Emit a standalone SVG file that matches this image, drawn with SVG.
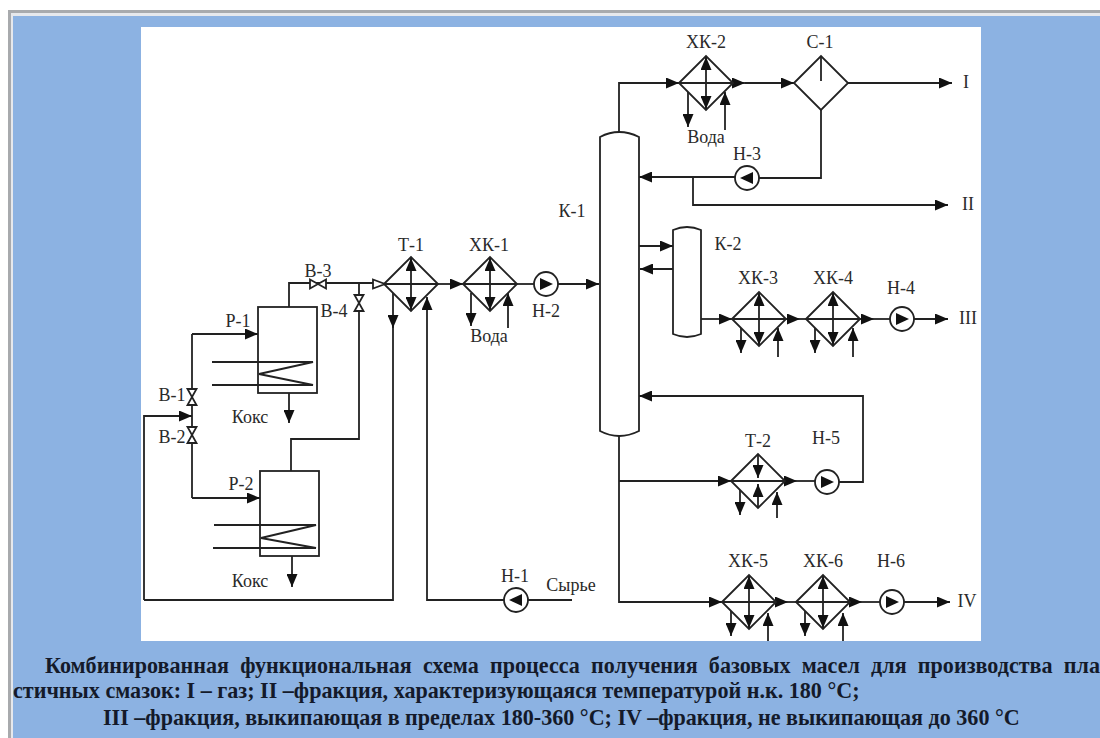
<svg xmlns="http://www.w3.org/2000/svg" width="1100" height="738" viewBox="0 0 1100 738">
<style>
.l{fill:none;stroke:#222;stroke-width:1.8}
.m{marker-end:url(#a)}
.s{fill:#fff;stroke:#222;stroke-width:1.8}
.t{font-family:"Liberation Serif",serif;font-size:18px;fill:#2a2a2a;text-anchor:middle}
.c{font-family:"Liberation Serif",serif;font-size:22.1px;font-weight:bold;fill:#141a2a}
</style>
<defs>
<marker id="a" markerUnits="userSpaceOnUse" markerWidth="13" markerHeight="11" refX="13" refY="5.5" orient="auto"><path d="M0,0L13,5.5L0,11z" fill="#111"/></marker>
<marker id="b" markerUnits="userSpaceOnUse" markerWidth="13" markerHeight="11" refX="13" refY="5.5" orient="auto-start-reverse"><path d="M0,0L13,5.5L0,11z" fill="#111"/></marker>
<g id="hx"><path class="s" d="M-27,0L0,-27L27,0L0,27z"/><path class="l" d="M-27,0H27"/><path class="l" d="M0,-26V26" marker-start="url(#b)" marker-end="url(#b)"/></g>
<g id="pr"><circle class="s" r="12"/><path d="M-6,-6L7,0L-6,6z" fill="#111"/></g>
<g id="pl"><circle class="s" r="12"/><path d="M6,-6L-7,0L6,6z" fill="#111"/></g>
<path id="vv" class="s" d="M-4.500,-8H4.500L-4.500,8H4.500z"/>
<path id="vh" class="s" d="M-8,-4.500V4.500L8,-4.500V4.500z"/>
</defs>
<rect width="1100" height="738" fill="#fff"/>
<rect x="8" y="10" width="1092" height="728" fill="#a8aaad"/>
<rect x="11" y="13" width="1089" height="725" fill="#e6e8ec"/>
<rect x="13" y="16" width="1087" height="722" fill="#8cb2e2"/>
<rect x="141" y="27" width="840" height="614" fill="#fff"/>
<g id="connectors">
<path class="l" d="M192,334V498"/>
<path class="l m" d="M192,334H258"/>
<path class="l m" d="M192,498H260"/>
<path class="l m" d="M144,600V416H192"/>
<path class="l" d="M144,600H393V316"/>
<path class="l m" d="M393,293V328"/>
<path class="l m" d="M504,600H427V297"/>
<path class="l" d="M572,600H528"/>
<path class="l" d="M289,307V283H373"/>
<path class="l" d="M359,283V439H291V471"/>
<path class="l m" d="M289,393V423"/>
<path class="l m" d="M292,556V587"/>
<path class="l m" d="M438,284H463"/>
<path class="l" d="M517,284H534"/>
<path class="l m" d="M558,284H599"/>
<path class="l m" d="M471,293V326"/>
<path class="l m" d="M508,328V293"/>
<path class="l m" d="M619,132V83H679"/>
<path class="l m" d="M733,83H745"/>
<path class="l m" d="M745,83H794"/>
<path class="l m" d="M848,83H952"/>
<path class="l m" d="M688,92V127"/>
<path class="l m" d="M725,130V92"/>
<path class="l" d="M821,110V178H759"/>
<path class="l m" d="M735,177H639"/>
<path class="l m" d="M693,177V205H948"/>
<path class="l m" d="M639,246H673"/>
<path class="l m" d="M673,269H640"/>
<path class="l m" d="M701,319H732"/>
<path class="l m" d="M786,319H800"/>
<path class="l" d="M800,319H806"/>
<path class="l m" d="M860,319H874"/>
<path class="l" d="M874,319H890"/>
<path class="l m" d="M914,319H948"/>
<path class="l m" d="M741,328V353"/>
<path class="l m" d="M778,357V328"/>
<path class="l m" d="M815,328V353"/>
<path class="l m" d="M853,357V328"/>
<path class="l m" d="M619,435V602H722"/>
<path class="l m" d="M619,481H731"/>
<path class="l m" d="M785,481H797"/>
<path class="l" d="M797,481H815"/>
<path class="l m" d="M839,482H863V396H639"/>
<path class="l m" d="M740,490V515"/>
<path class="l m" d="M777,518V492"/>
<path class="l m" d="M776,602H788"/>
<path class="l" d="M788,602H796"/>
<path class="l m" d="M850,602H862"/>
<path class="l" d="M862,602H880"/>
<path class="l m" d="M904,602H950"/>
<path class="l m" d="M731,610V636"/>
<path class="l m" d="M768,641V613"/>
<path class="l m" d="M805,610V636"/>
<path class="l m" d="M843,641V613"/>
</g>
<g id="V-1"><use href="#vv" x="192" y="397"/><text class="t" x="172" y="401">В-1</text></g>
<g id="V-2"><use href="#vv" x="192" y="435"/><text class="t" x="172" y="443">В-2</text></g>
<g id="V-3"><use href="#vh" x="318" y="284"/><text class="t" x="318" y="277">В-3</text></g>
<g id="V-4"><use href="#vv" x="359" y="303"/><text class="t" x="334" y="317">В-4</text></g>
<g id="R-1"><rect class="l" x="258" y="307" width="59" height="86"/><path class="l" d="M212,362H313L259,374L313,385H212"/><text class="t" x="238" y="327">Р-1</text><text class="t" x="250" y="423">Кокс</text></g>
<g id="R-2"><rect class="l" x="260" y="471" width="59" height="85"/><path class="l" d="M214,525H316L261,538L316,548H213"/><text class="t" x="241" y="490">Р-2</text><text class="t" x="250" y="587">Кокс</text></g>
<g id="T-1"><path class="s" d="M373,279.500L385,284L373,288.500z"/><use href="#hx" x="411" y="284"/><text class="t" x="411" y="251">Т-1</text></g>
<g id="XK-1"><use href="#hx" x="490" y="284"/><text class="t" x="489" y="251">ХК-1</text><text class="t" x="489" y="342">Вода</text></g>
<g id="N-1"><use href="#pl" x="516" y="600"/><text class="t" x="515" y="582">Н-1</text><text class="t" x="571" y="591">Сырье</text></g>
<g id="N-2"><use href="#pr" x="546" y="284"/><text class="t" x="546" y="317">Н-2</text></g>
<g id="K-1"><path class="s" d="M600,137Q619,127 639,137V431Q619,441 600,431z"/><text class="t" x="572" y="217">К-1</text></g>
<g id="XK-2"><use href="#hx" x="706" y="83"/><text class="t" x="706" y="48">ХК-2</text><text class="t" x="706" y="143">Вода</text></g>
<g id="S-1"><path class="s" d="M794,83L821,56L848,83L821,110z"/><path class="l" d="M821,56V81"/><text class="t" x="820" y="48">С-1</text></g>
<g id="N-3"><use href="#pl" x="747" y="178"/><text class="t" x="747" y="160">Н-3</text></g>
<g id="K-2"><path class="s" d="M673,230Q687,224 701,230V334Q687,340 673,334z"/><text class="t" x="728" y="250">К-2</text></g>
<g id="XK-3"><use href="#hx" x="759" y="319"/><text class="t" x="758" y="284">ХК-3</text></g>
<g id="XK-4"><use href="#hx" x="833" y="319"/><text class="t" x="833" y="284">ХК-4</text></g>
<g id="N-4"><use href="#pr" x="902" y="319"/><text class="t" x="901" y="294">Н-4</text></g>
<g id="T-2"><path class="s" d="M731,481L758,454L785,481L758,508z"/><path class="l" d="M731,481H785"/><path class="l m" d="M758,455V478"/><path class="l m" d="M758,508V484"/><text class="t" x="758" y="447">Т-2</text></g>
<g id="N-5"><use href="#pr" x="827" y="482"/><text class="t" x="826" y="444">Н-5</text></g>
<g id="XK-5"><use href="#hx" x="749" y="602"/><text class="t" x="748" y="567">ХК-5</text></g>
<g id="XK-6"><use href="#hx" x="823" y="602"/><text class="t" x="823" y="567">ХК-6</text></g>
<g id="N-6"><use href="#pr" x="892" y="602"/><text class="t" x="891" y="567">Н-6</text></g>
<g id="outputs"><text class="t" x="966" y="88">I</text><text class="t" x="968" y="210">II</text><text class="t" x="968" y="324">III</text><text class="t" x="967" y="607">IV</text></g>
<g id="caption">
<text class="c" x="45" y="673" word-spacing="5.7">Комбинированная функциональная схема процесса получения базовых масел для производства пла</text>
<text class="c" x="13" y="698">стичных смазок: I – газ; II –фракция, характеризующаяся температурой н.к. 180 °С;</text>
<text class="c" x="103" y="725">III –фракция, выкипающая в пределах 180-360 °С; IV –фракция, не выкипающая до 360 °С</text>
</g>
</svg>
